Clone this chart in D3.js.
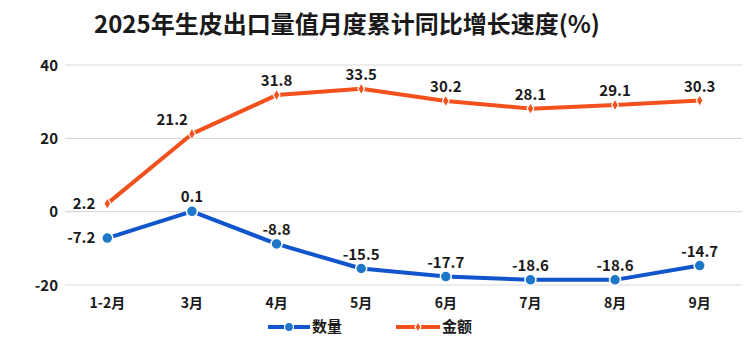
<!DOCTYPE html>
<html><head><meta charset="utf-8">
<script src="https://cdn.jsdelivr.net/npm/d3@7"></script>
<style>
html,body{margin:0;padding:0;background:#fff;}
svg text{font-family:"Noto Sans CJK SC","Noto Sans",sans-serif;font-weight:bold;fill:#1a1a1a;}
</style></head>
<body>
<svg id="c" width="750" height="348"></svg>
<script>
const title = "2025年生皮出口量值月度累计同比增长速度(%)";
const categories = ["1-2月","3月","4月","5月","6月","7月","8月","9月"];
const quantity = [-7.2, 0.1, -8.8, -15.5, -17.7, -18.6, -18.6, -14.7];
const amount = [2.2, 21.2, 31.8, 33.5, 30.2, 28.1, 29.1, 30.3];
const yTicks = [40, 20, 0, -20];
const seriesNames = ["数量", "金额"];

const svg = d3.select("#c");
const blue = "#1155CC", blueMarker = "#1F77C9", orange = "#F2501C";

const x = d3.scaleBand().domain(categories).range([65, 742]);
const y = d3.scaleLinear().domain([-20, 40]).range([285, 65]);
const cx = d => x(d) + x.bandwidth() / 2;

svg.append("text").attr("x", 347).attr("y", 33).attr("text-anchor", "middle")
  .style("font-size", "24px").text(title);

// grid
svg.append("g").selectAll("line").data(yTicks).join("line")
  .attr("x1", 65).attr("x2", 742).attr("y1", d => y(d)).attr("y2", d => y(d))
  .attr("stroke", "#d9d9d9").attr("stroke-width", 1.2);

// y axis
const ya = svg.append("g").attr("transform", "translate(58,0)")
  .call(d3.axisLeft(y).tickValues(yTicks).tickFormat(d => String(d)).tickSize(0).tickPadding(0));
ya.select(".domain").remove();
ya.selectAll("text").style("font-size", "15px").attr("fill", "#1a1a1a").attr("dy", "0.35em");

// x axis
const xa = svg.append("g").attr("transform", "translate(0,295)")
  .call(d3.axisBottom(x).tickSize(0).tickPadding(0));
xa.select(".domain").remove();
xa.selectAll("text").style("font-size", "14px").attr("fill", "#1a1a1a").attr("dy", "0.9em");

const line = d3.line().x((d, i) => cx(categories[i])).y(d => y(d));

// amount
svg.append("path").datum(amount).attr("d", line).attr("fill", "none")
  .attr("stroke", orange).attr("stroke-width", 4).attr("stroke-linejoin", "round");
svg.append("g").selectAll("path").data(amount).join("path")
  .attr("d", d3.symbol(d3.symbolDiamond, 40))
  .attr("transform", (d, i) => `translate(${cx(categories[i])},${y(d)})`)
  .attr("fill", orange).attr("stroke", "#fff").attr("stroke-width", 1.2);

// quantity
svg.append("path").datum(quantity).attr("d", line).attr("fill", "none")
  .attr("stroke", blue).attr("stroke-width", 4).attr("stroke-linejoin", "round");
svg.append("g").selectAll("circle").data(quantity).join("circle")
  .attr("cx", (d, i) => cx(categories[i])).attr("cy", d => y(d)).attr("r", 5.5)
  .attr("fill", blueMarker).attr("stroke", "#fff").attr("stroke-width", 1.5);

// labels
function labels(data, leftIdx) {
  svg.append("g").selectAll("text").data(data).join("text")
    .style("font-size", "15px")
    .attr("x", (d, i) => i === 0 ? cx(categories[i]) - 12 : (leftIdx.includes(i) ? cx(categories[i]) - 4 : cx(categories[i])))
    .attr("y", (d, i) => i === 0 ? y(d) + 5 : y(d) - 9)
    .attr("text-anchor", (d, i) => i === 0 ? "end" : (leftIdx.includes(i) ? "end" : "middle"))
    .text(d => d.toFixed(1));
}
labels(amount, [1]);
labels(quantity, []);

// legend
const lg = svg.append("g");
lg.append("line").attr("x1", 268).attr("x2", 310).attr("y1", 327).attr("y2", 327)
  .attr("stroke", blue).attr("stroke-width", 4);
lg.append("circle").attr("cx", 289).attr("cy", 327).attr("r", 4.5)
  .attr("fill", blueMarker).attr("stroke", "#fff").attr("stroke-width", 1.2);
lg.append("text").attr("x", 312).attr("y", 332).style("font-size", "15px").text(seriesNames[0]);
lg.append("line").attr("x1", 396).attr("x2", 440).attr("y1", 327).attr("y2", 327)
  .attr("stroke", orange).attr("stroke-width", 4);
lg.append("path").attr("d", d3.symbol(d3.symbolDiamond, 30))
  .attr("transform", "translate(418,327)")
  .attr("fill", orange).attr("stroke", "#fff").attr("stroke-width", 1.2);
lg.append("text").attr("x", 442).attr("y", 332).style("font-size", "15px").text(seriesNames[1]);
</script>
</body></html>
